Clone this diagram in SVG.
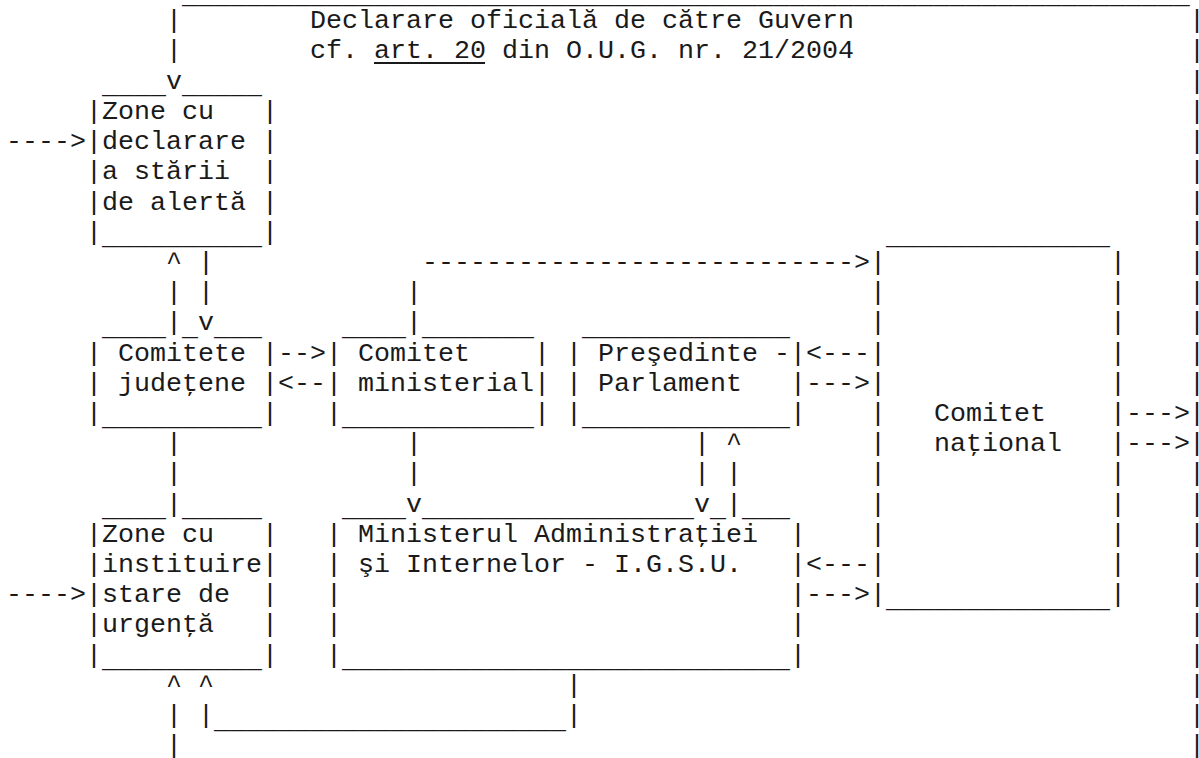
<svg xmlns="http://www.w3.org/2000/svg" width="1199" height="758" viewBox="0 0 1199 758">
<style>
text{font-family:"Liberation Mono","Courier New",monospace;font-size:26.67px;fill:#1a1a1a;white-space:pre}
</style>
<rect width="1199" height="758" fill="#fff"/>
<g id="connectors">
<text x="182" y="2.5">_______________________________________________________________</text>
<text x="166" y="28.2">|</text>
<text x="166" y="58.4">|</text>
<text x="166" y="88.6">v</text>
<text x="6" y="149.1">----&gt;</text>
<text x="6" y="602.2">----&gt;</text>
<text x="1189" y="28.2">|</text><text x="1189" y="58.4">|</text><text x="1189" y="88.6">|</text><text x="1189" y="118.8">|</text><text x="1189" y="149.1">|</text><text x="1189" y="179.3">|</text><text x="1189" y="209.5">|</text><text x="1189" y="239.7">|</text><text x="1189" y="269.9">|</text><text x="1189" y="300.1">|</text><text x="1189" y="330.3">|</text><text x="1189" y="360.5">|</text><text x="1189" y="390.7">|</text><text x="1189" y="420.9">|</text><text x="1189" y="451.2">|</text><text x="1189" y="481.4">|</text><text x="1189" y="511.6">|</text><text x="1189" y="541.8">|</text><text x="1189" y="572.0">|</text><text x="1189" y="602.2">|</text><text x="1189" y="632.4">|</text><text x="1189" y="662.6">|</text><text x="1189" y="692.8">|</text><text x="1189" y="723.0">|</text><text x="1189" y="753.3">|</text>
<text x="1126" y="420.9">---&gt;</text>
<text x="1126" y="451.2">---&gt;</text>
<text x="166" y="269.9">^</text><text x="198" y="269.9">|</text>
<text x="166" y="300.1">|</text><text x="198" y="300.1">|</text>
<text x="166" y="330.3">|</text><text x="198" y="330.3">v</text>
<text x="422" y="269.9">---------------------------&gt;</text>
<text x="406" y="300.1">|</text>
<text x="406" y="330.3">|</text>
<text x="278" y="360.5">--&gt;</text>
<text x="278" y="390.7">&lt;--</text>
<text x="806" y="360.5">&lt;---</text>
<text x="806" y="390.7">---&gt;</text>
<text x="166" y="451.2">|</text><text x="166" y="481.4">|</text><text x="166" y="511.6">|</text>
<text x="406" y="451.2">|</text><text x="406" y="481.4">|</text><text x="406" y="511.6">v</text>
<text x="694" y="451.2">|</text><text x="726" y="451.2">^</text>
<text x="694" y="481.4">|</text><text x="726" y="481.4">|</text>
<text x="694" y="511.6">v</text><text x="726" y="511.6">|</text>
<text x="806" y="572.0">&lt;---</text>
<text x="806" y="602.2">---&gt;</text>
<text x="166" y="692.8">^</text><text x="198" y="692.8">^</text><text x="566" y="692.8">|</text>
<text x="166" y="723.0">|</text><text x="198" y="723.0">|</text><text x="214" y="727.5">______________________</text><text x="566" y="723.0">|</text>
<text x="166" y="753.3">|</text>
</g>
<g id="gov-declaration">
<text x="310" y="28.2">Declarare oficială de către Guvern</text>
<text x="310" y="58.4">cf.</text>
<text x="374" y="58.4">art. 20</text>
<text x="502" y="58.4">din O.U.G. nr. 21/2004</text>
<rect x="374" y="62" width="111" height="2" fill="#1a1a1a"/>
</g>
<g id="alert-zones">
<text x="102" y="93.1">____</text><text x="182" y="93.1">_____</text>
<text xml:space="preserve" x="86" y="118.8">|Zone cu   |</text>
<text xml:space="preserve" x="86" y="149.1">|declarare |</text>
<text xml:space="preserve" x="86" y="179.3">|a stării  |</text>
<text xml:space="preserve" x="86" y="209.5">|de alertă |</text>
<text x="86" y="239.7">|<tspan dy="4.5">__________</tspan><tspan dy="-4.5">|</tspan></text>
</g>
<g id="county-committees">
<text x="102" y="334.8">____</text><text x="182" y="334.8">_</text><text x="214" y="334.8">___</text>
<text xml:space="preserve" x="86" y="360.5">| Comitete |</text>
<text xml:space="preserve" x="86" y="390.7">| judeţene |</text>
<text x="86" y="420.9">|<tspan dy="4.5">__________</tspan><tspan dy="-4.5">|</tspan></text>
</g>
<g id="ministerial-committee">
<text x="342" y="334.8">____</text><text x="422" y="334.8">_______</text>
<text xml:space="preserve" x="326" y="360.5">| Comitet    |</text>
<text xml:space="preserve" x="326" y="390.7">| ministerial|</text>
<text x="326" y="420.9">|<tspan dy="4.5">____________</tspan><tspan dy="-4.5">|</tspan></text>
</g>
<g id="president-parliament">
<text x="582" y="334.8">_____________</text>
<text xml:space="preserve" x="566" y="360.5">| Preşedinte -|</text>
<text xml:space="preserve" x="566" y="390.7">| Parlament   |</text>
<text x="566" y="420.9">|<tspan dy="4.5">_____________</tspan><tspan dy="-4.5">|</tspan></text>
</g>
<g id="national-committee">
<text x="886" y="244.2">______________</text>
<text x="870" y="269.9">|</text><text x="1110" y="269.9">|</text>
<text x="870" y="300.1">|</text><text x="1110" y="300.1">|</text>
<text x="870" y="330.3">|</text><text x="1110" y="330.3">|</text>
<text x="870" y="360.5">|</text><text x="1110" y="360.5">|</text>
<text x="870" y="390.7">|</text><text x="1110" y="390.7">|</text>
<text x="870" y="420.9">|</text><text x="1110" y="420.9">|</text>
<text x="870" y="451.2">|</text><text x="1110" y="451.2">|</text>
<text x="870" y="481.4">|</text><text x="1110" y="481.4">|</text>
<text x="870" y="511.6">|</text><text x="1110" y="511.6">|</text>
<text x="870" y="541.8">|</text><text x="1110" y="541.8">|</text>
<text x="870" y="572.0">|</text><text x="1110" y="572.0">|</text>
<text x="870" y="602.2">|<tspan dy="4.5">______________</tspan><tspan dy="-4.5">|</tspan></text>
<text x="934" y="420.9">Comitet</text>
<text x="934" y="451.2">naţional</text>
</g>
<g id="ministry">
<text x="342" y="516.1">____</text><text x="422" y="516.1">_________________</text><text x="710" y="516.1">_</text><text x="742" y="516.1">___</text>
<text x="326" y="541.8">|</text><text x="790" y="541.8">|</text>
<text x="326" y="572.0">|</text><text x="790" y="572.0">|</text>
<text x="326" y="602.2">|</text><text x="790" y="602.2">|</text>
<text x="326" y="632.4">|</text><text x="790" y="632.4">|</text>
<text x="326" y="662.6">|<tspan dy="4.5">____________________________</tspan><tspan dy="-4.5">|</tspan></text>
<text x="358" y="541.8">Ministerul Administraţiei</text>
<text x="358" y="572.0">şi Internelor - I.G.S.U.</text>
</g>
<g id="emergency-zones">
<text x="102" y="516.1">____</text><text x="182" y="516.1">_____</text>
<text xml:space="preserve" x="86" y="541.8">|Zone cu   |</text>
<text xml:space="preserve" x="86" y="572.0">|instituire|</text>
<text xml:space="preserve" x="86" y="602.2">|stare de  |</text>
<text xml:space="preserve" x="86" y="632.4">|urgenţă   |</text>
<text x="86" y="662.6">|<tspan dy="4.5">__________</tspan><tspan dy="-4.5">|</tspan></text>
</g>
</svg>
